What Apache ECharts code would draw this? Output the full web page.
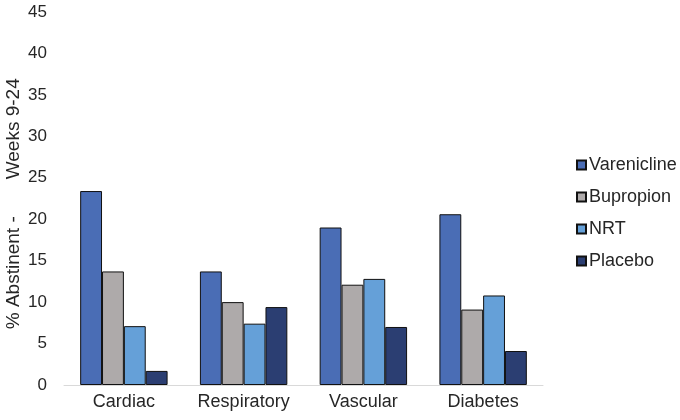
<!DOCTYPE html>
<html><head><meta charset="utf-8">
<script src="https://cdn.jsdelivr.net/npm/echarts@6/dist/echarts.min.js"></script>
<style>html,body{margin:0;padding:0;background:#fff}#c{width:680px;height:420px}</style>
</head><body><div id="c"></div>
<script>
const categories = ['Cardiac', 'Respiratory', 'Vascular', 'Diabetes'];
const seriesNames = ['Varenicline', 'Bupropion', 'NRT', 'Placebo'];
const varenicline = [23.4, 13.7, 19.0, 20.6];
const bupropion = [13.7, 10.0, 12.1, 9.1];
const nrt = [7.1, 7.4, 12.8, 10.8];
const placebo = [1.7, 9.4, 7.0, 4.1];
const yTicks = { min: 0, max: 45, interval: 5 };
const colors = ['#4a6db5', '#aeaaaa', '#65a0d8', '#2b3e72'];
const values = [varenicline, bupropion, nrt, placebo];

const chart = echarts.init(document.getElementById('c'), null, {renderer: 'canvas'});
const font = 'Liberation Sans, Arial, sans-serif';
chart.setOption({
  animation: false,
  textStyle: { fontFamily: font },
  grid: { left: 64, right: 137, top: 12, bottom: 35, containLabel: false, outerBoundsMode: 'none' },
  legend: {
    orient: 'vertical', left: 571, top: 151,
    itemWidth: 9, itemHeight: 9, itemGap: 14,
    icon: 'rect',
    textStyle: { fontSize: 18, color: '#262626', fontFamily: font, padding: [0, 0, 0, -2] },
    data: seriesNames
  },
  xAxis: {
    type: 'category', data: categories,
    axisLine: { lineStyle: { color: '#d9d9d9', width: 1 } },
    axisTick: { show: false },
    axisLabel: { interval: 0, fontSize: 18, color: '#262626', margin: 8, fontFamily: font }
  },
  yAxis: {
    type: 'value', min: yTicks.min, max: yTicks.max, interval: yTicks.interval,
    name: '% Abstinent -       Weeks 9-24  ', nameLocation: 'middle', nameGap: 41,
    nameMoveOverlap: false,
    nameTextStyle: { fontSize: 19, color: '#262626', fontFamily: font },
    axisLine: { show: false }, axisTick: { show: false },
    splitLine: { show: false },
    axisLabel: { fontSize: 17, color: '#262626', margin: 17, fontFamily: font }
  },
  series: seriesNames.map((n, i) => ({
    name: n, type: 'bar', data: values[i],
    barGap: '0%', barCategoryGap: '27%',
    itemStyle: { color: colors[i], borderColor: '#111', borderWidth: 1 }
  }))
});
</script></body></html>
